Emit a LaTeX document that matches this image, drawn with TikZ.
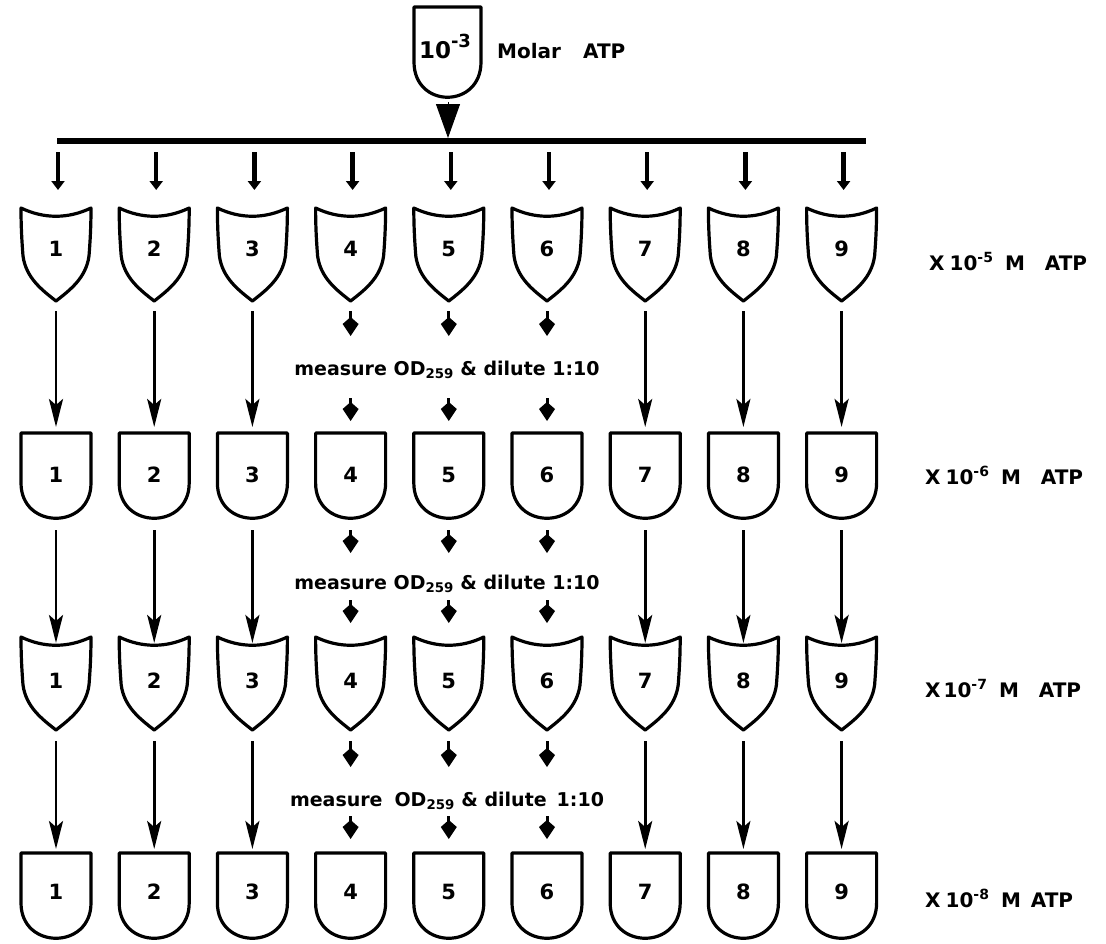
\documentclass[tikz,border=0pt]{standalone}
\usepackage{fontspec}
\setmainfont{DejaVu Sans}
\usetikzlibrary{arrows.meta}

% shield-shaped vessel: concave rim, pointed bottom (x, rim height)
\newcommand\shieldat[2]{%
  \draw[vessel] (#1-35,#2) .. controls (#1-12,#2+11) and (#1+12,#2+11) .. (#1+35,#2)
    .. controls (#1+35,#2+20) and (#1+34,#2+35) .. (#1+33,#2+48)
    .. controls (#1+30,#2+70) and (#1+14,#2+82) .. (#1,#2+93)
    .. controls (#1-14,#2+82) and (#1-30,#2+70) .. (#1-33,#2+48)
    .. controls (#1-34,#2+35) and (#1-35,#2+20) .. cycle;}
% cup-shaped vessel: flat rim, rounded bottom (x, rim height)
\newcommand\cupat[2]{%
  \draw[vessel] (#1-35,#2) -- (#1+35,#2) -- (#1+35,#2+50)
    .. controls (#1+35,#2+97) and (#1-35,#2+97) .. (#1-35,#2+50) -- cycle;}
% raised exponent
\newcommand\expo[1]{\raisebox{8pt}{\fontsize{14}{14}\selectfont #1}}

\begin{document}
\begin{tikzpicture}[x=1pt,y=-1pt,
  vessel/.style={line width=3.2pt,line join=round},
  num/.style={font=\fontsize{21}{21}\selectfont\bfseries,inner sep=0pt},
  lbl/.style={font=\fontsize{20}{20}\selectfont\bfseries,inner sep=0pt,anchor=base west},
  note/.style={font=\fontsize{19}{19}\selectfont\bfseries,inner sep=0pt,anchor=base},
  longarrow/.style={line width=2.8pt,-{Stealth[length=28pt,width=14pt,inset=6pt]}},
  kitearrow/.style={line width=3pt,-{Kite[length=19pt,width=16pt,inset=7pt]}},
  droparrow/.style={line width=4.5pt,-{Triangle[length=9pt,width=13pt]}},
]
\useasboundingbox (0,0) rectangle (1106,943);

% stock solution
\draw[vessel] (414,7) -- (481,7) -- (481,62)
  .. controls (481,109) and (414,109) .. (414,62) -- cycle;
\node[font=\fontsize{23}{23}\selectfont\bfseries,inner sep=0pt,anchor=base] (src) at (445,58)
  {10\raisebox{11pt}{\fontsize{18}{18}\selectfont -3}};
\node[lbl] (molar) at (497,58) {Molar\hspace{22pt}ATP};
\coordinate (srcout) at (448,102);
\coordinate (barin) at (448,138);
\draw[line width=1pt,-{Triangle[length=34pt,width=24pt]}] (srcout) -- (barin);

% distribution bar
\coordinate (barL) at (57,141);
\coordinate (barR) at (866,141);
\draw[line width=5.5pt] (barL) -- (barR);

% dilution notes
\node[note] (m1) at (447,375) {measure OD\textsubscript{259} \& dilute 1:10};
\node[note] (m2) at (447,589) {measure OD\textsubscript{259} \& dilute 1:10};
\node[note] (m3) at (447,806) {measure\hspace{12pt}OD\textsubscript{259} \& dilute\hspace{10pt}1:10};

% concentration labels
\node[lbl] (cA) at (929,270) {X\hspace{5pt}10\expo{-5}\hspace{12pt}M\hspace{20pt}ATP};
\node[lbl] (cB) at (925,484) {X\hspace{5pt}10\expo{-6}\hspace{12pt}M\hspace{20pt}ATP};
\node[lbl] (cC) at (925,697) {X\hspace{3pt}10\expo{-7}\hspace{12pt}M\hspace{20pt}ATP};
\node[lbl] (cD) at (925,907) {X\hspace{5pt}10\expo{-8}\hspace{12pt}M\hspace{10pt}ATP};

\foreach \i in {1,...,9}{
  \pgfmathsetmacro\x{56+98.2*(\i-1)}
  \pgfmathtruncatemacro\ismid{and(\i>3,\i<7)}
  % vessels
  \shieldat{\x}{208}
  \cupat{\x}{433}
  \shieldat{\x}{637}
  \cupat{\x}{853}
  \node[num] (a\i) at (\x,249) {\i};
  \node[num] (b\i) at (\x,475) {\i};
  \node[num] (c\i) at (\x,681) {\i};
  \node[num] (d\i) at (\x,892) {\i};
  % feed from the bar
  \coordinate (f\i) at (\x+2,152);
  \coordinate (g\i) at (\x+2,190);
  \draw[droparrow] (f\i) -- (g\i);
  % transfers between rows
  \coordinate (ao\i) at (\x,311);
  \coordinate (bi\i) at (\x,427);
  \coordinate (bo\i) at (\x,530);
  \coordinate (ci\i) at (\x,643);
  \coordinate (co\i) at (\x,741);
  \coordinate (di\i) at (\x,849);
  \ifnum\ismid=1
    \coordinate (ak\i) at (\x,336);
    \coordinate (bk\i) at (\x,398);
    \draw[kitearrow] (ao\i) -- (ak\i);
    \draw[kitearrow] (bk\i) -- (\x,421);
    \coordinate (bk2\i) at (\x,553);
    \coordinate (ck\i) at (\x,600);
    \draw[kitearrow] (bo\i) -- (bk2\i);
    \draw[kitearrow] (ck\i) -- (\x,623);
    \coordinate (ck2\i) at (\x,767);
    \coordinate (dk\i) at (\x,816);
    \draw[kitearrow] (co\i) -- (ck2\i);
    \draw[kitearrow] (dk\i) -- (\x,839);
  \else
    \draw[longarrow] (ao\i) -- (bi\i);
    \draw[longarrow] (bo\i) -- (ci\i);
    \draw[longarrow] (co\i) -- (di\i);
  \fi
}
\end{tikzpicture}
\end{document}
